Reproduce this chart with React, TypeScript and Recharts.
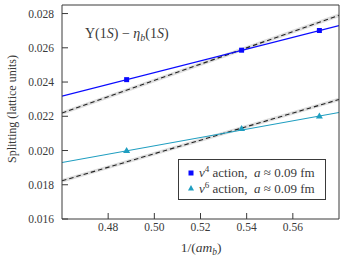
import { ComposedChart, Line, Scatter, XAxis, YAxis, Legend, Customized } from 'recharts'

// 1/(a m_b) of the three ensembles
const xPoints = [0.488, 0.5378, 0.5715]
const v4Split = [0.02414, 0.02586, 0.02701]
const v6Split = [0.02, 0.02128, 0.02202]

// fit lines, read at the plot edges
const fitX = [0.46, 0.58]
const v4Fit = [0.02318, 0.0273]
const v4Cont = [0.02219, 0.0279]
const v6Fit = [0.0193, 0.02222]
const v6Cont = [0.01823, 0.02298]

const xTicks = [0.48, 0.5, 0.52, 0.54, 0.56]
const yTicks = [0.016, 0.018, 0.02, 0.022, 0.024, 0.026, 0.028]

const BLUE = '#0a0aff'
const TEAL = '#1f9ec0'
const FONT = '"Liberation Serif", "DejaVu Serif", serif'
const INK = '#3a3a3a'

const pts = (ys: number[]) => xPoints.map((x, i) => ({ x, y: ys[i] }))
const fit = (ys: number[]) => fitX.map((x, i) => ({ x, y: ys[i] }))

const square = ({ cx, cy }: any) => <rect x={cx - 2.5} y={cy - 2.5} width={5} height={5} fill={BLUE} />
const triangle = ({ cx, cy }: any) => (
  <polygon points={`${cx},${cy - 3.5} ${cx + 3.5},${cy + 2.5} ${cx - 3.5},${cy + 2.5}`} fill={TEAL} />
)

const tickStyle = { fill: INK, fontSize: 11.5, fontFamily: FONT }

const LegendBox = () => (
  <div style={{
    boxSizing: 'border-box', width: 148, height: 41,
    border: `1px solid ${INK}`, background: '#fff', padding: '5px 4px 0 9px',
    fontFamily: FONT, fontSize: 13, color: INK, whiteSpace: 'nowrap',
  }}>
    {[{ p: '4', c: BLUE, tri: false }, { p: '6', c: TEAL, tri: true }].map(r => (
      <div key={r.p} style={{ display: 'flex', alignItems: 'center', height: 15.5, lineHeight: '15.5px' }}>
        <svg width={6} height={6} style={{ marginRight: 5, flex: 'none' }}>
          {r.tri ? <polygon points="3,0 6,5.5 0,5.5" fill={r.c} /> : <rect width={5} height={5} x={0.5} y={0.5} fill={r.c} />}
        </svg>
        <span><i>v</i><sup style={{ fontSize: 9, verticalAlign: 5, lineHeight: 0 }}>{r.p}</sup>&nbsp;action,&nbsp;&nbsp;<i>a</i> ≈ 0.09 fm</span>
      </div>
    ))}
  </div>
)

const Texts = () => (
  <g fontFamily={FONT} fill={INK}>
    <text x={85} y={38} fontSize={14}>
      Υ(1<tspan fontStyle="italic">S</tspan>) − <tspan fontStyle="italic">η</tspan>
      <tspan fontStyle="italic" fontSize={10} dy={3}>b</tspan>
      <tspan dy={-3}>(1</tspan><tspan fontStyle="italic">S</tspan>)
    </text>
    <text x={201} y={252} fontSize={13.5} textAnchor="middle">
      1/(<tspan fontStyle="italic">am</tspan><tspan fontStyle="italic" fontSize={9.5} dy={3}>b</tspan><tspan dy={-3}>)</tspan>
    </text>
    <text transform="rotate(-90)" x={-109} y={16} fontSize={12} textAnchor="middle">
      Splitting (lattice units)
    </text>
  </g>
)

export default function App() {
  return (
    <div style={{ position: 'absolute', left: 0, top: 0, background: '#fff' }}>
      <ComposedChart width={345} height={260} margin={{ top: 0, right: 0, left: 0, bottom: 0 }}>
        <XAxis dataKey="x" type="number" domain={[0.46, 0.58]} ticks={xTicks} allowDataOverflow
          height={41} tickSize={-6} tickMargin={10} stroke={INK} tick={tickStyle}
          tickFormatter={v => v.toFixed(2)} />
        <XAxis xAxisId="top" orientation="top" dataKey="x" type="number" domain={[0.46, 0.58]} ticks={xTicks}
          allowDataOverflow height={5} tickSize={-6} stroke={INK} tick={false} />
        <YAxis type="number" domain={[0.016, 0.0285]} ticks={yTicks} allowDataOverflow width={62}
          tickSize={-6} tickMargin={14} stroke={INK} tick={tickStyle} tickFormatter={v => v.toFixed(3)} />
        <YAxis yAxisId="right" orientation="right" type="number" domain={[0.016, 0.0285]} ticks={yTicks}
          allowDataOverflow width={6} tickSize={-6} stroke={INK} tick={false} />

        <Line xAxisId="top" yAxisId="right" data={fit(v4Cont)} dataKey="y" stroke="#dedede" strokeWidth={3.5} dot={false} isAnimationActive={false} />
        <Line xAxisId="top" yAxisId="right" data={fit(v6Cont)} dataKey="y" stroke="#dedede" strokeWidth={3.5} dot={false} isAnimationActive={false} />
        <Line data={fit(v4Cont)} dataKey="y" stroke="#222" strokeWidth={1.1} strokeDasharray="4.5 3" dot={false} isAnimationActive={false} />
        <Line data={fit(v6Cont)} dataKey="y" stroke="#222" strokeWidth={1.1} strokeDasharray="4.5 3" dot={false} isAnimationActive={false} />
        <Line data={fit(v4Fit)} dataKey="y" stroke={BLUE} strokeWidth={1.2} dot={false} isAnimationActive={false} />
        <Line data={fit(v6Fit)} dataKey="y" stroke={TEAL} strokeWidth={1.2} dot={false} isAnimationActive={false} />
        <Scatter data={pts(v4Split)} dataKey="y" shape={square} isAnimationActive={false} />
        <Scatter data={pts(v6Split)} dataKey="y" shape={triangle} isAnimationActive={false} />

        <Customized component={Texts} />
        <Legend content={LegendBox} layout="horizontal" verticalAlign="middle" align="center"
          wrapperStyle={{ left: 178, top: 159, width: 148, height: 41 }} />
      </ComposedChart>
    </div>
  )
}
